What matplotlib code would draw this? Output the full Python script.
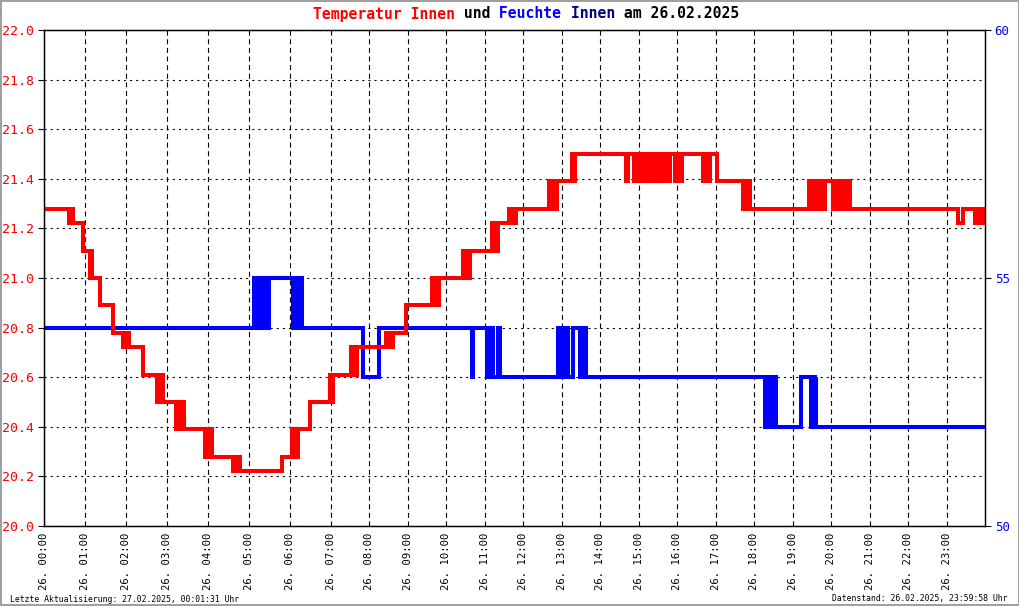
import numpy as np
import matplotlib
matplotlib.use("Agg")
import matplotlib.pyplot as plt
from matplotlib.ticker import MultipleLocator, FormatStrFormatter

# Temperatur Innen (step values, time in hours of 26.02.2025)
temp_steps = [(0.00, 21.28), (0.62, 21.22), (0.66, 21.28), (0.71, 21.22), (0.95, 21.11),
              (1.12, 21.00), (1.14, 21.11), (1.17, 21.00), (1.36, 20.89), (1.68, 20.78),
              (1.93, 20.72), (1.97, 20.78), (2.00, 20.72), (2.03, 20.78), (2.08, 20.72),
              (2.41, 20.61), (2.76, 20.50), (2.80, 20.61), (2.84, 20.50), (2.88, 20.61),
              (2.90, 20.50), (3.22, 20.39), (3.26, 20.50), (3.32, 20.39), (3.36, 20.50),
              (3.41, 20.39), (3.93, 20.28), (3.97, 20.39), (4.02, 20.28), (4.06, 20.39),
              (4.10, 20.28), (4.61, 20.22), (4.65, 20.28), (4.70, 20.22), (4.74, 20.28),
              (4.78, 20.22), (5.80, 20.28), (6.05, 20.39), (6.10, 20.28), (6.14, 20.39),
              (6.18, 20.28), (6.20, 20.39), (6.49, 20.50), (6.98, 20.61), (7.02, 20.50),
              (7.06, 20.61), (7.52, 20.72), (7.57, 20.61), (7.62, 20.72), (7.66, 20.61),
              (7.68, 20.72), (8.43, 20.78), (8.48, 20.72), (8.53, 20.78), (8.57, 20.72),
              (8.61, 20.78), (8.95, 20.89), (9.62, 21.00), (9.67, 20.89), (9.72, 21.00),
              (9.77, 20.89), (9.81, 21.00), (10.43, 21.11), (10.48, 21.00), (10.53, 21.11),
              (10.57, 21.00), (10.61, 21.11), (11.18, 21.22), (11.22, 21.11), (11.27, 21.22),
              (11.31, 21.11), (11.35, 21.22), (11.62, 21.28), (11.67, 21.22), (11.72, 21.28),
              (11.77, 21.22), (11.82, 21.28), (12.66, 21.39), (12.71, 21.28), (12.76, 21.39),
              (12.82, 21.28), (12.87, 21.39), (13.26, 21.50), (13.30, 21.39), (13.35, 21.50),
              (14.66, 21.39), (14.72, 21.50), (14.87, 21.39), (14.92, 21.50), (14.97, 21.39),
              (15.03, 21.50), (15.07, 21.39), (15.12, 21.50), (15.16, 21.39), (15.20, 21.50),
              (15.24, 21.39), (15.30, 21.50), (15.34, 21.39), (15.40, 21.50), (15.44, 21.39),
              (15.50, 21.50), (15.54, 21.39), (15.60, 21.50), (15.64, 21.39), (15.70, 21.50),
              (15.75, 21.39), (15.80, 21.50), (15.94, 21.39), (16.00, 21.50), (16.05, 21.39),
              (16.12, 21.50), (16.66, 21.39), (16.72, 21.50), (16.78, 21.39), (16.84, 21.50),
              (17.03, 21.39), (17.70, 21.28), (17.75, 21.39), (17.80, 21.28), (17.84, 21.39),
              (17.88, 21.28), (19.42, 21.39), (19.47, 21.28), (19.52, 21.39), (19.58, 21.28),
              (19.63, 21.39), (19.70, 21.28), (19.74, 21.39), (19.80, 21.28), (19.84, 21.39),
              (20.04, 21.28), (20.10, 21.39), (20.15, 21.28), (20.20, 21.39), (20.25, 21.28),
              (20.32, 21.39), (20.37, 21.28), (20.43, 21.39), (20.48, 21.28), (23.29, 21.22),
              (23.42, 21.28), (23.73, 21.22), (23.80, 21.28), (23.85, 21.22), (23.92, 21.28),
              (23.96, 21.22), (24.00, 21.22)]

# Feuchte Innen (%)
hum_steps = [(0.00, 54), (5.12, 55), (5.17, 54), (5.22, 55), (5.26, 54), (5.32, 55),
             (5.37, 54), (5.42, 55), (5.46, 54), (5.50, 55), (6.07, 54), (6.12, 55),
             (6.17, 54), (6.22, 55), (6.29, 54), (7.84, 53), (8.26, 54), (10.66, 53),
             (10.70, 54), (11.05, 53), (11.09, 54), (11.14, 53), (11.18, 54), (11.21, 53),
             (11.34, 54), (11.39, 53), (12.90, 54), (12.94, 53), (12.97, 54), (13.00, 53),
             (13.08, 54), (13.16, 53), (13.29, 54), (13.46, 53), (13.50, 54), (13.55, 53),
             (13.58, 54), (13.62, 53), (18.27, 52), (18.32, 53), (18.36, 52), (18.42, 53),
             (18.47, 52), (18.52, 53), (18.58, 52), (19.21, 53), (19.48, 52), (19.52, 53),
             (19.57, 52), (19.60, 53), (19.62, 52), (24.00, 52)]

hours = list(range(24))
hour_labels = ["26. %02d:00" % h for h in hours]
temp_ticks = np.arange(20.0, 22.01, 0.2)
hum_ticks = [50, 55, 60]

temp_time, temp_value = map(list, zip(*temp_steps))
hum_time, hum_value = map(list, zip(*hum_steps))

# the source chart spaces the first 7 hours a bit wider than the rest
scale_h = [0, 7, 24]
scale_p = [0, 287, 941]
def fwd(h):
    return np.interp(h, scale_h, scale_p)
def inv(p):
    return np.interp(p, scale_p, scale_h)

plt.rcParams["font.family"] = ["DejaVu Sans Mono"]
plt.rcParams["lines.scale_dashes"] = False

fig = plt.figure(figsize=(10.2, 6.06), dpi=100)
fig.patch.set_facecolor("white")
fig.patch.set_edgecolor("#a0a0a0")
fig.patch.set_linewidth(1.5)

# host axes carries humidity (right), twin carries temperature (left, drawn on top)
ax = fig.add_axes([44 / 1020, 80 / 606, 941 / 1020, 496 / 606])
ax.set_xscale("function", functions=(fwd, inv))
ax.set_xlim(0, 24)
ax.set_ylim(50, 60)
ax2 = ax.twinx()
ax2.set_ylim(20, 22)

ax.step(hum_time, hum_value, where="post", color="#0000ff", lw=2.9, solid_joinstyle="miter")
ax2.step(temp_time, temp_value, where="post", color="#ff0000", lw=2.9, solid_joinstyle="miter")

# grid
ax.set_xticks(hours)
ax.set_xticklabels(hour_labels, rotation=90, fontsize=7.6)
ax.tick_params(axis="x", length=0, pad=5)
ax.grid(axis="x", color="black", lw=0.8, linestyle=(0, (3.6, 2.6)))
ax.yaxis.set_minor_locator(MultipleLocator(1))
ax.grid(axis="y", which="both", color="black", lw=0.8, linestyle=(0, (1.5, 2.9)))

# humidity axis on the right
ax.yaxis.tick_right()
ax.set_yticks(hum_ticks)
ax.tick_params(axis="y", which="major", length=4, width=0.8, colors="black",
               labelcolor="#0000ff", labelsize=9, pad=3)
ax.tick_params(axis="y", which="minor", length=0)

# temperature axis on the left
ax2.yaxis.tick_left()
ax2.set_yticks(temp_ticks)
ax2.yaxis.set_major_formatter(FormatStrFormatter("%.1f"))
ax2.tick_params(axis="y", length=4, width=0.8, colors="black",
                labelcolor="#ff0000", labelsize=9.5, pad=3)

for a in (ax, ax2):
    for s in a.spines.values():
        s.set_color("black")
        s.set_linewidth(0.9)

# title in several colours
parts = [("Temperatur Innen", "#ff0000"), (" und", "black"), (" Feuchte", "#0000ff"),
         (" Innen", "#000080"), (" am 26.02.2025", "black")]
t = fig.text(313 / 1020, 1 - 14 / 606, parts[0][0], color=parts[0][1],
             fontsize=10.6, fontweight="bold", ha="left", va="center")
for txt, col in parts[1:]:
    t = ax.annotate(txt, xy=(1, 0), xycoords=t, va="bottom", ha="left", color=col,
                    fontsize=10.6, fontweight="bold", annotation_clip=False)

fig.text(10 / 1020, 1 - 599 / 606, "Letzte Aktualisierung: 27.02.2025, 00:01:31 Uhr",
         fontsize=5.9, ha="left", va="center")
fig.text(1008 / 1020, 1 - 599 / 606, "Datenstand: 26.02.2025, 23:59:58 Uhr",
         fontsize=5.9, ha="right", va="center")

fig.savefig("out.png", dpi=100)
